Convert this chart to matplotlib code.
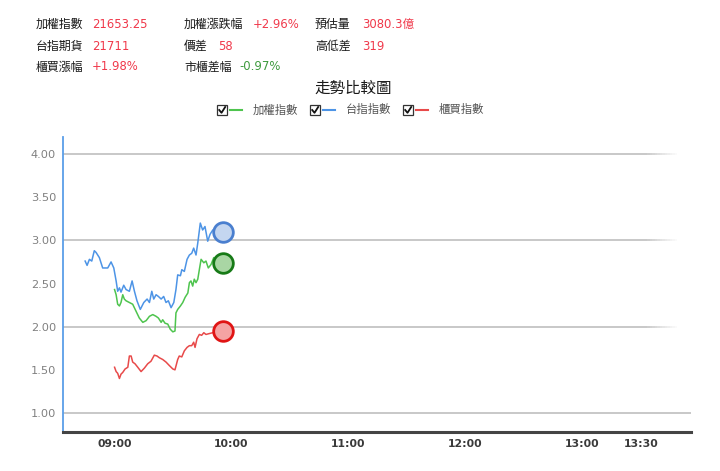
import matplotlib
matplotlib.use("Agg")
import matplotlib.pyplot as plt
from matplotlib.patches import Rectangle
from matplotlib.lines import Line2D

plt.rcParams['font.family'] = ['DejaVu Sans', 'Noto Sans CJK TC']

# ---------------- data ----------------
blue_times = ["08:44:54", "08:45:54", "08:47:06", "08:48:18", "08:49:36", "08:50:30", "08:52:12",
              "08:53:54", "08:56:30", "08:58:12", "08:59:36", "09:00:48", "09:01:36", "09:02:30",
              "09:03:18", "09:04:42", "09:05:54", "09:07:36", "09:09:00", "09:10:12", "09:11:30",
              "09:13:12", "09:15:00", "09:16:42", "09:17:54", "09:19:06", "09:20:06", "09:21:18",
              "09:22:30", "09:23:54", "09:25:12", "09:26:24", "09:27:36", "09:29:00", "09:30:24",
              "09:31:30", "09:32:24", "09:33:48", "09:34:30", "09:35:48", "09:37:12", "09:38:24",
              "09:39:36", "09:40:36", "09:41:48", "09:42:42", "09:44:00", "09:45:12", "09:46:24",
              "09:47:48", "09:49:00", "09:50:24", "09:52:06", "09:53:48", "09:55:06", "09:56:42"]
blue_values = [2.76, 2.71, 2.78, 2.76, 2.88, 2.86, 2.80,
               2.68, 2.68, 2.75, 2.68, 2.53, 2.41, 2.45,
               2.40, 2.48, 2.43, 2.41, 2.53, 2.41, 2.30,
               2.20, 2.28, 2.32, 2.28, 2.41, 2.32, 2.37,
               2.35, 2.32, 2.35, 2.28, 2.30, 2.22, 2.28,
               2.43, 2.60, 2.59, 2.66, 2.64, 2.78, 2.83,
               2.85, 2.91, 2.83, 2.97, 3.20, 3.12, 3.16,
               2.99, 3.07, 3.12, 3.10, 3.09, 3.05, 3.10]

green_times = ["09:00:00", "09:00:48", "09:01:36", "09:02:30", "09:03:18", "09:04:12", "09:05:00",
               "09:05:54", "09:07:36", "09:09:18", "09:11:00", "09:12:42", "09:14:30", "09:16:12",
               "09:17:54", "09:19:36", "09:21:18", "09:22:30", "09:23:54", "09:24:42", "09:25:54",
               "09:27:18", "09:28:36", "09:29:54", "09:31:00", "09:31:30", "09:32:24", "09:33:48",
               "09:35:00", "09:36:12", "09:37:36", "09:38:24", "09:39:12", "09:40:06", "09:40:54",
               "09:41:48", "09:42:42", "09:43:30", "09:44:24", "09:45:48", "09:46:54", "09:48:06",
               "09:49:30", "09:50:54", "09:52:06", "09:53:18", "09:54:36", "09:56:00"]
green_values = [2.43, 2.37, 2.26, 2.24, 2.28, 2.37, 2.32,
                2.30, 2.28, 2.26, 2.18, 2.10, 2.05, 2.07,
                2.12, 2.14, 2.12, 2.10, 2.05, 2.08, 2.04,
                2.03, 1.97, 1.94, 1.95, 2.16, 2.20, 2.24,
                2.28, 2.34, 2.39, 2.51, 2.53, 2.47, 2.55,
                2.51, 2.55, 2.66, 2.78, 2.74, 2.76, 2.68,
                2.72, 2.80, 2.76, 2.72, 2.68, 2.66]

red_times = ["09:00:00", "09:00:48", "09:01:36", "09:02:30", "09:03:18", "09:04:12", "09:05:24",
             "09:06:48", "09:07:36", "09:08:30", "09:09:18", "09:10:30", "09:11:54", "09:13:36",
             "09:15:18", "09:17:00", "09:18:42", "09:20:24", "09:21:48", "09:23:00", "09:24:42",
             "09:26:24", "09:28:06", "09:29:54", "09:31:00", "09:32:24", "09:33:12", "09:34:30",
             "09:35:48", "09:37:12", "09:38:24", "09:39:36", "09:40:36", "09:41:18", "09:42:18",
             "09:43:30", "09:44:42", "09:45:48", "09:46:54", "09:48:36", "09:50:24", "09:52:06",
             "09:54:18", "09:56:00"]
red_values = [1.53, 1.48, 1.46, 1.40, 1.45, 1.47, 1.51,
              1.53, 1.66, 1.66, 1.59, 1.57, 1.53, 1.48,
              1.52, 1.57, 1.60, 1.67, 1.66, 1.64, 1.62,
              1.59, 1.55, 1.51, 1.50, 1.62, 1.66, 1.65,
              1.72, 1.76, 1.78, 1.78, 1.82, 1.76, 1.86,
              1.91, 1.90, 1.93, 1.91, 1.92, 1.93, 1.93,
              1.93, 1.94]

marker_time = "09:55:30"
marker_values = {"blue": 3.10, "green": 2.74, "red": 1.95}

series_names = ["加權指數", "台指指數", "櫃買指數"]
y_ticks = [1.00, 1.50, 2.00, 2.50, 3.00, 3.50, 4.00]
x_tick_labels = ["09:00", "10:00", "11:00", "12:00", "13:00", "13:30"]

header_rows = [
    [("加權指數", "21653.25", "red"), ("加權漲跌幅", "+2.96%", "red"), ("預估量", "3080.3億", "red")],
    [("台指期貨", "21711", "red"), ("價差", "58", "red"), ("高低差", "319", "red")],
    [("櫃買漲幅", "+1.98%", "red"), ("市櫃差幅", "-0.97%", "green")],
]
title = "走勢比較圖"


def to_hours(s):
    parts = [int(p) for p in s.split(":")]
    while len(parts) < 3:
        parts.append(0)
    return parts[0] + parts[1] / 60 + parts[2] / 3600


# ---------------- figure ----------------
W, H = 720, 471
fig = plt.figure(figsize=(W / 100, H / 100), dpi=100)
fig.patch.set_facecolor("white")


def fx(x):
    return x / W


def fy(y):
    return 1 - y / H


ax = fig.add_axes([fx(63), fy(432), (691 - 63) / W, (432 - 137) / H])
ax.set_xlim(8.559, 13.93)
ax.set_ylim(0.78, 4.197)

C_BLUE, C_GREEN, C_RED = "#4d94e6", "#4ec44e", "#e84a4a"

# grid lines with fade at right end
for v in [2.0, 3.0, 4.0]:
    ax.axhline(v, xmin=0, xmax=0.93, color="#c8c8c8", lw=1.4, zorder=1, solid_capstyle="butt")
    n = 12
    step = 0.048 / n
    for i in range(n):
        a = 1 - (i + 1) / (n + 1)
        ax.axhline(v, xmin=0.93 + i * step, xmax=0.93 + (i + 1) * step,
                   color="#c8c8c8", alpha=a, lw=1.4, zorder=1, solid_capstyle="butt")
ax.axhline(1.0, xmin=0, xmax=1, color="#c4c4c4", lw=1.3, zorder=1, solid_capstyle="butt")

ax.plot([to_hours(t) for t in blue_times], blue_values, color=C_BLUE, lw=1.1, zorder=3)
ax.plot([to_hours(t) for t in green_times], green_values, color=C_GREEN, lw=1.1, zorder=3)
ax.plot([to_hours(t) for t in red_times], red_values, color=C_RED, lw=1.1, zorder=3)

mt = to_hours(marker_time)
ax.scatter([mt], [marker_values["blue"]], s=200, facecolor="#c4d6f0", edgecolor="#4a7fcf", lw=2.0, zorder=5)
ax.scatter([mt], [marker_values["green"]], s=200, facecolor="#a9d6a4", edgecolor="#177a17", lw=2.0, zorder=5)
ax.scatter([mt], [marker_values["red"]], s=200, facecolor="#f5a3a3", edgecolor="#e01414", lw=2.0, zorder=5)

# axes styling
for s in ["top", "right"]:
    ax.spines[s].set_visible(False)
ax.spines["left"].set_color("#5a9ee8")
ax.spines["left"].set_linewidth(1.3)
ax.spines["bottom"].set_color("#444444")
ax.spines["bottom"].set_linewidth(2.2)

ax.set_yticks(y_ticks)
ax.set_yticklabels([f"{v:.2f}" for v in y_ticks], color="#808080", fontsize=8.2)
ax.set_xticks([to_hours(t) for t in x_tick_labels])
ax.set_xticklabels(x_tick_labels, color="#3a3a3a", fontsize=7.8, fontweight="bold")
ax.tick_params(axis="both", length=0)
ax.tick_params(axis="y", pad=5)
ax.tick_params(axis="x", pad=5)

# ---------------- header ----------------
col_label_x = [36, 184, 315]
row_y = [24, 46, 67]
value_x_table = [[92, 253, 362], [92, 218, 362], [92, 239]]
colors = {"red": "#f0384a", "green": "#3d9a3d"}
for r, row in enumerate(header_rows):
    for c, (lab, val, col) in enumerate(row):
        fig.text(fx(col_label_x[c]), fy(row_y[r]), lab, fontsize=8.6, color="#1a1a1a",
                 va="center", ha="left", family=["Noto Sans CJK TC", "DejaVu Sans"])
        fig.text(fx(value_x_table[r][c]), fy(row_y[r]), val, fontsize=8.4, color=colors[col],
                 va="center", ha="left", family=["DejaVu Sans", "Noto Sans CJK TC"])

fig.text(fx(353), fy(88), title, fontsize=11.2, color="#1a1a1a", ha="center", va="center",
         family=["Noto Sans CJK TC", "DejaVu Sans"])

# legend
legend_items = [(217, C_GREEN, series_names[0]), (310, C_BLUE, series_names[1]), (403, C_RED, series_names[2])]
ly = 110
for x0, col, name in legend_items:
    fig.patches.append(Rectangle((fx(x0), fy(ly + 5)), 10 / W, 10 / H, transform=fig.transFigure,
                                 facecolor="white", edgecolor="#333333", lw=0.9))
    fig.lines.append(Line2D([fx(x0 + 2.2), fx(x0 + 4.5), fx(x0 + 8.2)],
                            [fy(ly), fy(ly + 2.8), fy(ly - 3)], transform=fig.transFigure,
                            color="#111111", lw=1.3))
    fig.lines.append(Line2D([fx(x0 + 13), fx(x0 + 25)], [fy(ly), fy(ly)], transform=fig.transFigure,
                            color=col, lw=1.5))
    fig.text(fx(x0 + 36), fy(ly), name, fontsize=8.2, color="#555555", ha="left", va="center",
             family=["Noto Sans CJK TC", "DejaVu Sans"])

fig.savefig("out.png", dpi=100, facecolor="white")
